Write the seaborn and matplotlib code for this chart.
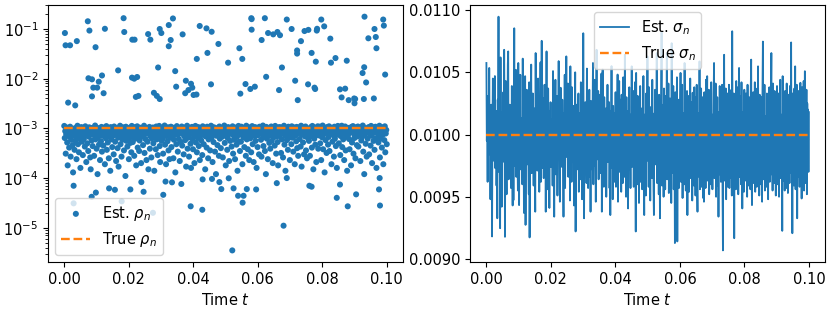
import numpy as np
import pandas as pd
import matplotlib
matplotlib.use("Agg")
import matplotlib.pyplot as plt
import seaborn as sns

plt.rcParams["font.family"] = ["DejaVu Sans"]
plt.rcParams["font.size"] = 10.5

BLUE = "#1f77b4"
ORANGE = "#ff7f0e"

# ---------------- data (rho and sigma in units of 1e-6) ----------------
rho_cluster_e6 = [
    1120, 640, 880, 310, 760, 1040, 520, 180, 930, 700, 410, 850, 1080, 270, 590, 790, 960, 460, 130, 720,
    820, 370, 1010, 560, 690, 240, 900, 1130, 480, 770, 330, 950, 620, 160, 870, 1060, 540, 720, 290, 840,
    610, 980, 430, 1100, 730, 210, 860, 500, 940, 350, 680, 1050, 790, 260, 150, 910, 570, 1020, 440, 750,
    890, 280, 720, 1140, 600, 830, 390, 970, 120, 660, 1010, 470, 800, 230, 930, 550, 1070, 340, 710, 860,
    450, 1030, 760, 190, 920, 630, 1110, 370, 840, 520, 990, 250, 700, 880, 140, 1060, 600, 780, 420, 950,
    710, 300, 1090, 870, 540, 960, 220, 760, 1000, 400, 650, 170, 910, 830, 1130, 480, 730, 270, 990, 590,
    1050, 820, 360, 690, 940, 110, 1080, 560, 770, 430, 880, 1020, 240, 640, 970, 510, 800, 330, 1120, 680,
    530, 900, 1060, 280, 740, 620, 990, 180, 860, 1100, 410, 710, 950, 350, 570, 1030, 820, 200, 680, 910,
    980, 460, 750, 1130, 320, 890, 610, 1010, 230, 790, 540, 960, 150, 840, 1070, 390, 700, 920, 260, 630,
    770, 1040, 500, 860, 140, 950, 720, 380, 1090, 600, 830, 290, 990, 670, 1120, 440, 210, 880, 740, 560,
    1010, 620, 310, 930, 780, 1140, 470, 850, 190, 700, 960, 550, 1050, 360, 810, 240, 900, 650, 1080, 420,
    680, 870, 1030, 250, 590, 990, 740, 130, 920, 480, 1110, 820, 340, 760, 610, 1000, 220, 850, 530, 940,
    1090, 450, 790, 960, 300, 700, 1040, 580, 880, 170, 820, 1130, 390, 650, 930, 270, 760, 1020, 490, 160,
    840, 1070, 610, 380, 980, 720, 200, 900, 1120, 520, 780, 330, 950, 640, 1060, 440, 860, 230, 700, 1010,
    570, 930, 290, 1100, 760, 480, 870, 1000, 150, 690, 920, 410, 1080, 800, 250, 600, 970, 730, 360, 850,
    1130, 650, 820, 210, 940, 530, 1050, 770, 340, 890, 120, 710, 1010, 460, 830, 960, 280, 1090, 620, 750,
    400, 890, 1020, 680, 260, 960, 810, 1140, 510, 730, 180, 870, 990, 370, 640, 1060, 790, 220, 910, 560,
    780, 1000, 430, 870, 1100, 310, 720, 590, 950, 240, 830, 1040, 470, 680, 140, 900, 1120, 540, 760, 350,
    960, 540, 1080, 750, 190, 880, 660, 1010, 420, 810, 970, 280, 1130, 600, 740, 380, 920, 1050, 230, 690,
    630, 860, 330, 990, 1110, 480, 770, 210, 940, 700, 1060, 560, 850, 160, 1020, 420, 730, 900, 300, 1080,
    820, 1030, 590, 270, 910, 750, 1140, 440, 680, 980, 350, 790, 120, 1070, 620, 860, 240, 960, 710, 510,
    1000, 390, 740, 1090, 560, 870, 200, 1020, 660, 930, 450, 1120, 800, 310, 690, 970, 530, 180, 850, 1060,
    700, 950, 1050, 320, 810, 600, 990, 260, 880, 1130, 470, 730, 140, 920, 1010, 580, 830, 370, 1080, 650,
    890, 230, 1010, 760, 480, 1100, 650, 920, 340, 840, 1040, 190, 710, 960, 550, 1070, 400, 780, 280, 930,
    1040, 610, 880, 430, 1130, 170, 750, 990, 520, 860, 300, 1000, 690, 1090, 360, 820, 250, 940, 640, 720,
    560, 970, 280, 830, 1060, 690, 410, 1120, 780, 150, 900, 620, 1030, 470, 870, 210, 980, 740, 1100, 390,
    930, 720, 1080, 500, 840, 230, 990, 660, 1140, 380, 760, 1020, 130, 890, 580, 950, 320, 1060, 810, 470,
    670, 1100, 350, 910, 780, 1030, 190, 860, 540, 960, 730, 270, 1080, 620, 840, 440, 1000, 160, 750, 1120,
    980, 500, 830, 1060, 290, 700, 940, 1130, 420, 790, 600, 1010, 230, 870, 1090, 360, 680, 920, 140, 820,
    740, 1020, 610, 380, 960, 850, 180, 1070, 520, 900, 1110, 310, 770, 640, 1000, 250, 880, 1050, 460, 690,
    1090, 430, 920, 760, 1030, 220, 830, 570, 970, 680, 1140, 340, 860, 120, 740, 1010, 490, 890, 270, 960,
    620, 880, 1060, 300, 780, 990, 450, 1120, 710, 200, 940, 830, 560, 1040, 370, 820, 1080, 630, 160, 910,
    850, 1000, 520, 700, 1130, 260, 960, 620, 880, 410, 1050, 750, 190, 990, 580, 1100, 330, 790, 930, 480,
]

t_hi = [
    0.0002, 0.0004, 0.0018, 0.0012, 0.0034, 0.0039, 0.0073, 0.0078, 0.0075, 0.0086,
    0.0090, 0.0097, 0.0107, 0.0102, 0.0086, 0.0117, 0.0122, 0.0126, 0.0167, 0.0184,
    0.0186, 0.0211, 0.0218, 0.0210, 0.0217, 0.0226, 0.0222, 0.0230, 0.0260, 0.0267,
    0.0278, 0.0287, 0.0296, 0.0291, 0.0296, 0.0301, 0.0324, 0.0324, 0.0330, 0.0337,
    0.0344, 0.0347, 0.0367, 0.0377, 0.0375, 0.0385, 0.0393, 0.0397, 0.0401, 0.0410,
    0.0411, 0.0420, 0.0441, 0.0444, 0.0457, 0.0455, 0.0478, 0.0508, 0.0543, 0.0546,
    0.0552, 0.0562, 0.0577, 0.0580, 0.0581, 0.0581, 0.0591, 0.0612, 0.0622, 0.0626,
    0.0632, 0.0648, 0.0661, 0.0669, 0.0666, 0.0675, 0.0690, 0.0705, 0.0716, 0.0722,
    0.0722, 0.0724, 0.0734, 0.0745, 0.0757, 0.0756, 0.0767, 0.0776, 0.0778, 0.0780,
    0.0783, 0.0784, 0.0797, 0.0806, 0.0825, 0.0827, 0.0841, 0.0855, 0.0860, 0.0871,
    0.0876, 0.0882, 0.0899, 0.0900, 0.0902, 0.0925, 0.0930, 0.0929, 0.0931, 0.0936,
    0.0943, 0.0960, 0.0962, 0.0966, 0.0968, 0.0989, 0.0991, 0.0995,
]
rho_hi_e6 = [
    83000, 47000, 47000, 3300, 2900, 57000, 143000, 93000, 10200, 9700,
    6600, 43000, 8700, 6600, 4400, 11600, 5100, 101000, 14700, 165000,
    87000, 61000, 61000, 10500, 10000, 10800, 4300, 4500, 79000, 61000,
    5200, 4500, 3900, 16800, 100000, 83000, 120000, 45000, 60000, 163000,
    14200, 6900, 78000, 9100, 5100, 5900, 7900, 6600, 4700, 4800,
    25000, 115000, 103000, 33000, 88000, 7700, 50000, 21000, 41000, 5000,
    25000, 7800, 6200, 165000, 158000, 97000, 6900, 60000, 165000, 10900,
    83000, 78000, 87000, 75000, 5900, 16800, 155000, 100000, 9100, 37000,
    32000, 3700, 57000, 91000, 96000, 7700, 33000, 6600, 6200, 22000,
    93000, 101000, 155000, 113000, 64000, 21000, 26000, 6100, 4200, 6300,
    23000, 3700, 4000, 3200, 3900, 13000, 17000, 3900, 177000, 8400,
    65000, 4000, 100000, 69000, 41000, 155000, 117000, 12100,
]

t_lo = [
    0.0029, 0.0029, 0.0098, 0.0085, 0.0139, 0.0157, 0.0178, 0.0205, 0.0246, 0.0239,
    0.0275, 0.0307, 0.0314, 0.0334, 0.0363, 0.0392, 0.0428, 0.0429, 0.0458, 0.0481,
    0.0487, 0.0510, 0.0521, 0.0525, 0.0539, 0.0553, 0.0556, 0.0566, 0.0595, 0.0659,
    0.0680, 0.0690, 0.0767, 0.0760, 0.0845, 0.0855, 0.0879, 0.0905, 0.0976, 0.0979,
    0.0978,
]
rho_lo_e6 = [
    70, 31, 51, 42, 62, 58, 34, 59, 53, 83,
    20, 46, 85, 82, 76, 27, 23, 94, 96, 83,
    60, 99, 3.5, 62, 44, 32, 44, 60, 59, 79,
    11, 100, 67, 70, 40, 74, 27, 47, 59, 28,
    100,
]

sigma_e6 = [
    10575, 9950, 10120, 9620, 10310, 10080, 9840, 10535, 9910, 10160, 9480, 10030, 10240, 9870, 9181, 10060, 10450, 9790, 9990, 10220,
    9880, 10470, 9730, 10040, 10190, 9590, 9960, 9327, 10280, 10010, 10947, 9700, 10110, 9930, 9247, 10620, 9850, 10060, 9420, 10180,
    10020, 9780, 10340, 9910, 10681, 10090, 9178, 9980, 10430, 9860, 9520, 10150, 9930, 10560, 10668, 9640, 10050, 9810, 10240, 9690,
    10110, 9570, 10000, 10390, 9880, 9430, 10200, 9473, 10070, 10854, 9750, 10030, 9900, 10520, 9660, 9980, 10140, 9810, 9550, 10575,
    9940, 9433, 10210, 9850, 10480, 9720, 10040, 9970, 10130, 9600, 10610, 9830, 10090, 9370, 10280, 10010, 10469, 9274, 10120, 9890,
    10360, 9760, 9990, 10150, 9870, 9520, 10420, 9173, 10060, 9940, 10180, 10562, 9690, 10070, 9820, 10330, 9950, 9590, 10040, 10210,
    9800, 9380, 10655, 9880, 10240, 9970, 9710, 10050, 10450, 9840, 10130, 9540, 9990, 10100, 10580, 9620, 10020, 10753, 9730, 9960,
    10080, 10290, 9650, 9990, 10400, 9890, 10170, 9380, 10060, 10668, 9780, 10010, 9560, 10370, 9920, 10050, 9410, 10190, 9950, 10260,
    9740, 10120, 9910, 10020, 9590, 10510, 9860, 10080, 9340, 10200, 9970, 10440, 9680, 10010, 9870, 10310, 9510, 10040, 9920, 10590,
    9810, 10150, 9460, 10060, 10376, 9900, 10020, 9740, 10280, 9990, 9860, 9340, 10170, 9930, 10480, 9570, 10090, 9960, 10628, 9820,
    10190, 9870, 10410, 9660, 10030, 9950, 10290, 9470, 10548, 9800, 10100, 9620, 10380, 9910, 10040, 9780, 10230, 9430, 10150, 9960,
    10500, 9221, 9990, 9850, 10240, 9720, 10060, 10010, 10330, 9540, 10170, 9880, 10090, 9640, 10420, 9900, 10000, 9480, 10200, 9830,
    10814, 9920, 9327, 10140, 9790, 10260, 9940, 10060, 9610, 10530, 9850, 10180, 9570, 10020, 9990, 10360, 9660, 10110, 9380, 10270,
    9830, 10050, 9720, 10190, 10575, 9600, 9960, 9890, 10440, 9750, 10130, 9460, 10210, 10681, 9800, 10030, 9920, 10350, 9640, 10090,
    9870, 10320, 9690, 10080, 9950, 10490, 9380, 10140, 10522, 9810, 10000, 9580, 10300, 9900, 10110, 9740, 10210, 9500, 9980, 9930,
    10400, 9780, 10130, 9890, 10260, 9570, 10040, 9353, 10190, 9950, 10550, 9730, 10080, 9480, 10230, 9880, 10010, 9620, 10170, 9840,
    10340, 9580, 10100, 9910, 10050, 10482, 9460, 10220, 9820, 10430, 9700, 10060, 9970, 10280, 9540, 10320, 9860, 10090, 9610, 10460,
    9890, 10020, 9660, 10641, 9880, 10150, 9500, 10300, 9800, 10070, 9960, 9406, 10190, 9720, 10380, 9870, 10040, 9570, 10160, 9820,
    10548, 9740, 10120, 9900, 10350, 9580, 10030, 9930, 10420, 9770, 9221, 10495, 9850, 10140, 9600, 10310, 9940, 10050, 9450, 10200,
    9860, 10390, 9620, 10080, 9970, 10210, 9560, 10130, 9810, 10470, 9740, 9353, 10160, 9900, 10040, 9510, 10330, 9880, 9990, 10628,
    9790, 10190, 9580, 10380, 9890, 10070, 9470, 10220, 9930, 10150, 9650, 10440, 9840, 10010, 9560, 9353, 10170, 9920, 10360, 9760,
    10090, 9850, 10655, 9610, 10200, 9940, 10060, 9520, 10320, 9800, 9327, 10140, 9900, 10270, 10822, 9590, 10080, 9960, 10240, 9500,
    10370, 9820, 10110, 9560, 10310, 9880, 10030, 10655, 9640, 10170, 9930, 10410, 9530, 10100, 9850, 10290, 9610, 10130, 9450, 10734,
    9690, 10180, 9910, 10390, 9560, 10060, 9950, 9128, 10340, 9780, 10140, 9860, 10460, 9141, 10090, 9930, 10280, 9570, 10050, 9880,
    10230, 10495, 9620, 10110, 9900, 10400, 9490, 10170, 9830, 10040, 9600, 10575, 9870, 10200, 9550, 10090, 9960, 10350, 9353, 10150,
    9700, 10310, 9540, 10120, 9920, 10450, 9650, 10070, 9840, 10260, 9470, 10336, 9890, 10050, 9590, 10380, 9930, 10110, 9510, 10300,
    9740, 10400, 9610, 9380, 10170, 9920, 10080, 9660, 10588, 9560, 10140, 9850, 10370, 9580, 10030, 9940, 10300, 9490, 10120, 9460,
    10340, 9700, 10090, 9570, 10440, 9880, 10050, 10469, 9630, 10150, 9910, 10360, 9520, 10080, 9840, 10290, 9600, 10420, 9870, 10010,
    9560, 10160, 9890, 10330, 10575, 9650, 10070, 9930, 10410, 9500, 10130, 9850, 10300, 9590, 10100, 9340, 10180, 9680, 10390, 9910,
    10050, 9620, 10310, 9870, 10400, 9550, 9069, 10120, 9830, 10641, 9630, 10160, 9900, 10370, 9480, 10090, 9950, 10330, 9580, 10130,
    9730, 10400, 9570, 10070, 9920, 10300, 9650, 10360, 9510, 10830, 9880, 10110, 9620, 10330, 9167, 10170, 9860, 10040, 9560, 10430,
    9690, 10150, 9920, 10380, 9520, 10080, 10535, 9660, 10310, 9890, 10030, 9600, 10420, 9850, 9406, 10180, 9940, 10120, 9540, 10360,
    9700, 10070, 9630, 10330, 9900, 10140, 9500, 10400, 9860, 10100, 9590, 10300, 9930, 10050, 9560, 10380, 10602, 9680, 9433, 10160,
    9880, 10340, 9610, 10110, 9960, 10420, 9540, 10060, 9830, 10290, 9580, 10370, 9900, 10548, 9660, 10130, 9510, 10320, 9870, 10070,
    9600, 10300, 9890, 9460, 10350, 10747, 9640, 10100, 9930, 10400, 9550, 10150, 9850, 10040, 9580, 10330, 9940, 10170, 9480, 10110,
    9870, 10380, 9620, 10090, 9910, 10310, 10655, 9680, 10140, 9550, 10410, 9860, 10050, 9610, 10350, 9920, 10080, 9510, 10290, 9710,
    10390, 9600, 10120, 9890, 10330, 9500, 10070, 9940, 10440, 9650, 10160, 9850, 10030, 9226, 10469, 9630, 10300, 9910, 10100, 9550,
    10350, 9710, 10080, 9570, 10410, 9920, 10150, 9530, 10320, 9870, 10060, 9610, 10390, 9890, 10130, 10740, 9690, 10020, 9207, 10330,
    9730, 10280, 9590, 10370, 9930, 10548, 9560, 10100, 9880, 10400, 9327, 10140, 9660, 10350, 9940, 10070, 9580, 10310, 10416, 9700,
    10120, 9486, 10380, 9640, 10270, 9900, 10430, 9550, 10090, 10509, 9610, 10310, 9880, 10360, 9520, 10250, 9740, 10200, 9700, 10180,
]

rho_true = 1e-3
sigma_true = 1e-2
t_range = [0.0, 0.1]

# ---------------- frames ----------------
t_cluster = np.linspace(t_range[0], t_range[1], len(rho_cluster_e6))
df_rho = pd.DataFrame({
    "t": np.concatenate([t_cluster, t_hi, t_lo]),
    "rho": np.concatenate([np.array(rho_cluster_e6, float),
                           np.array(rho_hi_e6, float),
                           np.array(rho_lo_e6, float)]) * 1e-6,
})
df_sigma = pd.DataFrame({
    "t": np.linspace(t_range[0], t_range[1], len(sigma_e6)),
    "sigma": np.array(sigma_e6, float) * 1e-6,
})
df_rho_true = pd.DataFrame({"t": t_range, "v": [rho_true, rho_true]})
df_sigma_true = pd.DataFrame({"t": t_range, "v": [sigma_true, sigma_true]})

# ---------------- figure ----------------
fig, (ax1, ax2) = plt.subplots(1, 2, figsize=(8.3, 3.12), dpi=100)
fig.subplots_adjust(left=0.058, right=0.994, top=0.984, bottom=0.16, wspace=0.19)

ax1.set_yscale("log")
sns.scatterplot(data=df_rho, x="t", y="rho", ax=ax1, color=BLUE, s=19,
                edgecolor="none", linewidth=0, label=r"Est. $\rho_n$")
sns.lineplot(data=df_rho_true, x="t", y="v", ax=ax1, color=ORANGE,
             linestyle="--", linewidth=1.7, label=r"True $\rho_n$")
ax1.set_xlabel(r"Time $t$")
ax1.set_ylabel("")
ax1.legend(loc="lower left")

sns.lineplot(data=df_sigma, x="t", y="sigma", ax=ax2, color=BLUE,
             linewidth=1.3, estimator=None, label=r"Est. $\sigma_n$")
sns.lineplot(data=df_sigma_true, x="t", y="v", ax=ax2, color=ORANGE,
             linestyle="--", linewidth=1.7, label=r"True $\sigma_n$")
ax2.set_xlabel(r"Time $t$")
ax2.set_ylabel("")
ax2.set_yticks([0.0090, 0.0095, 0.0100, 0.0105, 0.0110])
ax2.yaxis.set_major_formatter(matplotlib.ticker.FormatStrFormatter("%.4f"))
ax2.legend(loc="upper center")

for ax in (ax1, ax2):
    ax.set_xticks([0.0, 0.02, 0.04, 0.06, 0.08, 0.10])
    ax.xaxis.set_major_formatter(matplotlib.ticker.FormatStrFormatter("%.2f"))
    ax.margins(x=0.05)

fig.savefig("out.png", dpi=100)
